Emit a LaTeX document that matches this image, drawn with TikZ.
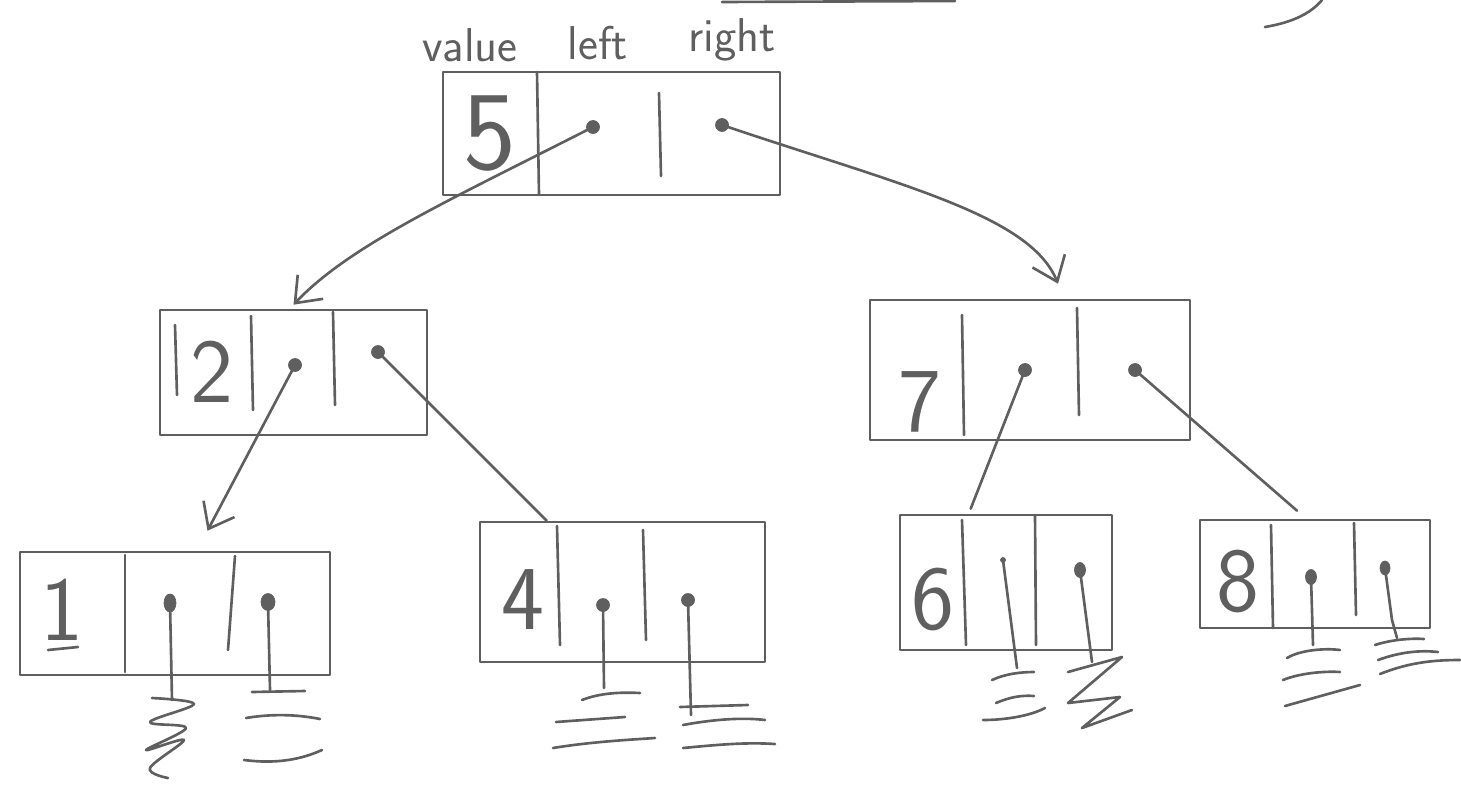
\documentclass[tikz,border=0pt]{standalone}
\usetikzlibrary{arrows.meta,shapes.geometric}
\definecolor{ink}{RGB}{95,95,95}
\begin{document}
\begin{tikzpicture}[x=0.02cm,y=-0.02cm,
  inkline/.style={draw=ink,line width=1.5pt,line cap=round,line join=round},
  box/.style={inkline,rectangle,inner sep=0pt},
  divider/.style={inkline},
  ptr/.style={circle,fill=ink,draw=ink,inner sep=0pt,minimum size=0.26cm},
  link/.style={inkline},
  arrowlink/.style={inkline,-{Straight Barb[length=0.45cm,width=0.7cm]}},
  ground/.style={inkline},
  val/.style={text=ink,font=\sffamily\fontsize{52}{52}\selectfont,inner sep=0pt},
  bigval/.style={text=ink,font=\sffamily\fontsize{64}{64}\selectfont,inner sep=0pt},
  field/.style={text=ink,font=\sffamily\fontsize{27}{29}\selectfont,inner sep=0pt}]
\useasboundingbox (0,0) rectangle (1461,788);

% stray strokes at the top edge
\draw[inkline] (722,2) -- (955,1);
\draw[inkline] (1265,27) .. controls (1295,22) and (1312,12) .. (1322,0);

% field labels
\node[field] (lv) at (470,45) {value};
\node[field] (lf) at (598,43) {left};
\node[field] (lr) at (732,40) {right};

% ---- root 5
\node[box,minimum width=6.74cm,minimum height=2.46cm] (n5) at (611.5,133.5) {};
\draw[divider] (537,72) -- (539,195);
\draw[divider] (659,93) -- (661,176);
\node[bigval] (v5) at (490,134) {5};
\node[ptr] (p5l) at (593,127) {};
\node[ptr] (p5r) at (722,125) {};

% ---- node 2
\node[box,minimum width=5.34cm,minimum height=2.5cm] (n2) at (293.5,372.5) {};
\draw[divider] (175,325) -- (177,395);
\draw[divider] (251,316) -- (253,410);
\draw[divider] (333,312) -- (335,405);
\node[val] (v2) at (212,372) {2};
\node[ptr] (p2l) at (295,365) {};
\node[ptr] (p2r) at (378,352) {};

% ---- node 7
\node[box,minimum width=6.4cm,minimum height=2.8cm] (n7) at (1030,370) {};
\draw[divider] (962,315) -- (964,435);
\draw[divider] (1077,308) -- (1079,415);
\node[val] (v7) at (920,402) {7};
\node[ptr] (p7l) at (1025,370) {};
\node[ptr] (p7r) at (1135,370) {};

% ---- node 1
\node[box,minimum width=6.2cm,minimum height=2.46cm] (n1) at (175,613.5) {};
\draw[divider] (125,555) -- (125,672);
\draw[divider] (235,556) -- (228,650);
\node[val] (v1) at (62,610) {1};
\draw[inkline] (48,650) -- (78,647);
\node[ptr,ellipse,minimum width=0.24cm,minimum height=0.36cm] (p1l) at (170,603) {};
\node[ptr,ellipse,minimum width=0.28cm,minimum height=0.34cm] (p1r) at (268,602) {};

% ---- node 4
\node[box,minimum width=5.7cm,minimum height=2.8cm] (n4) at (622.5,592) {};
\draw[divider] (557,526) -- (560,645);
\draw[divider] (643,530) -- (646,640);
\node[val] (v4) at (523,600) {4};
\node[ptr] (p4l) at (603,605) {};
\node[ptr] (p4r) at (688,600) {};

% ---- node 6
\node[box,minimum width=4.24cm,minimum height=2.7cm] (n6) at (1006,582.5) {};
\draw[divider] (962,520) -- (966,645);
\draw[divider] (1035,515) -- (1036,645);
\node[val] (v6) at (933,600) {6};
\node[ptr,minimum size=0.1cm] (p6l) at (1003,560) {};
\node[ptr,ellipse,minimum width=0.22cm,minimum height=0.3cm] (p6r) at (1080,570) {};

% ---- node 8
\node[box,minimum width=4.6cm,minimum height=2.16cm] (n8) at (1315,574) {};
\draw[divider] (1271,525) -- (1273,628);
\draw[divider] (1354,523) -- (1356,615);
\node[val] (v8) at (1238,582) {8};
\node[ptr,ellipse,minimum width=0.22cm,minimum height=0.3cm] (p8l) at (1311,577) {};
\node[ptr,ellipse,minimum width=0.2cm,minimum height=0.28cm] (p8r) at (1385,568) {};

% ---- links between nodes
\draw[arrowlink] (p5l.center) .. controls (450,200) and (350,245) .. ([yshift=0.08cm]n2.north);
\draw[arrowlink] (p5r.center) .. controls (900,185) and (1030,215) .. ([xshift=0.56cm,yshift=0.3cm]n7.north);
\draw[arrowlink] (p2l.center) -- ([xshift=0.65cm,yshift=0.4cm]n1.north);
\draw[link] (p2r.center) -- ([xshift=1.36cm]n4.north west);
\draw[link] (p7l.center) -- ([xshift=1.44cm,yshift=0.1cm]n6.north west);
\draw[link] (p7r.center) -- ([xshift=-0.36cm,yshift=0.16cm]n8.north);

% ---- null pointers (ground symbols)
\coordinate (g1l) at (172,700);
\draw[link] (p1l.center) -- (g1l);
\draw[ground] plot[smooth,tension=0.6] coordinates {(152,698) (194,704) (150,722) (186,728) (146,750) (184,740) (150,768) (168,778)};
\coordinate (g1r) at (270,690);
\draw[link] (p1r.center) -- (g1r);
\draw[ground] (252,692) -- (305,691);
\draw[ground] (246,718) .. controls (270,714) and (295,714) .. (320,719);
\draw[ground] (244,760) .. controls (275,764) and (300,760) .. (322,750);

\coordinate (g4l) at (604,688);
\draw[link] (p4l.center) -- (g4l);
\draw[ground] (582,700) .. controls (600,693) and (620,692) .. (640,693);
\draw[ground] (556,722) -- (625,717);
\draw[ground] (553,748) .. controls (590,742) and (625,740) .. (655,738);
\coordinate (g4r) at (691,715);
\draw[link] (p4r.center) -- (g4r);
\draw[ground] (680,707) -- (748,705);
\draw[ground] (683,725) .. controls (710,720) and (740,717) .. (765,720);
\draw[ground] (683,748) .. controls (715,745) and (745,742) .. (775,744);

\coordinate (g6l) at (1017,668);
\draw[link] (p6l.center) -- (g6l);
\draw[ground] (992,680) .. controls (1005,674) and (1020,672) .. (1034,672);
\draw[ground] (996,703) .. controls (1010,697) and (1022,695) .. (1034,696);
\draw[ground] (983,720) .. controls (1005,720) and (1030,716) .. (1045,708);
\coordinate (g6r) at (1092,662);
\draw[link] (p6r.center) -- (g6r);
\draw[ground] (1068,672) -- (1122,657) -- (1068,703) -- (1120,697) -- (1082,728) -- (1132,710);

\coordinate (g8l) at (1313,645);
\draw[link] (p8l.center) -- (g8l);
\draw[ground] (1287,658) .. controls (1300,650) and (1325,648) .. (1340,650);
\draw[ground] (1283,680) .. controls (1300,673) and (1325,671) .. (1340,672);
\draw[ground] (1285,706) -- (1360,685);
\coordinate (g8r) at (1397,638);
\draw[link] (p8r.center) -- (1392,620) -- (g8r);
\draw[ground] (1375,645) .. controls (1390,640) and (1410,638) .. (1424,639);
\draw[ground] (1378,660) .. controls (1400,652) and (1420,650) .. (1438,652);
\draw[ground] (1380,674) .. controls (1410,662) and (1435,660) .. (1460,660);
\end{tikzpicture}
\end{document}
